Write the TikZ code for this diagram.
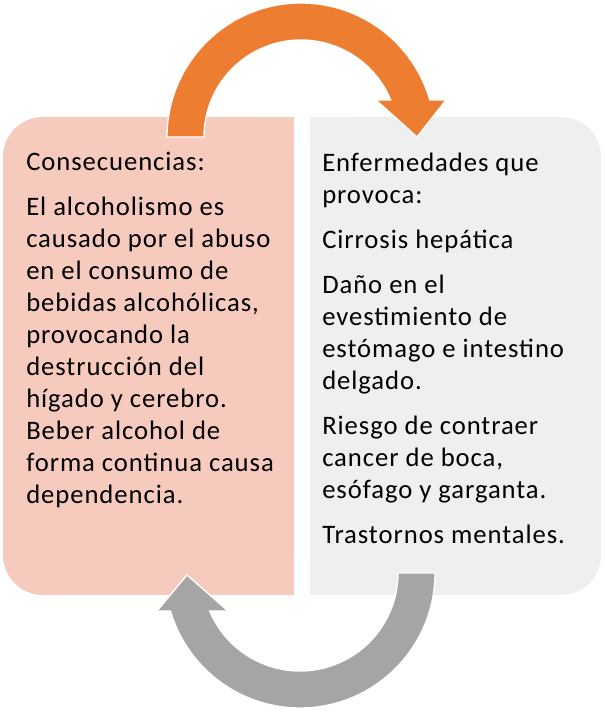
\documentclass[tikz,border=0pt]{standalone}
\usepackage{fontspec}
\setmainfont[LetterSpace=3.5]{Carlito}
\usetikzlibrary{positioning}
\definecolor{peach}{HTML}{F6CBBE}
\definecolor{lightgrey}{HTML}{EFEFEF}
\definecolor{orangearc}{HTML}{ED7D31}
\definecolor{greyarc}{HTML}{A5A5A5}

\begin{document}
\begin{tikzpicture}[x=0.75pt,y=0.75pt,
  txt/.style={inner sep=0pt,align=left,anchor=north west,
    font=\fontsize{20}{24}\selectfont},
  cyclearc/.style={draw=white,line width=1pt}]

\useasboundingbox (0,0) rectangle (604,712);

\fill[peach,rounded corners=30pt]     (3,117) rectangle (294,595);
\fill[peach]                          (200,117) rectangle (294,595);
\fill[lightgrey,rounded corners=30pt] (310,117) rectangle (601,595);
\fill[lightgrey]                      (310,117) rectangle (400,595);

\node[txt]   (cons)   at (26,564.5)
      {\strut Consecuencias:\\[9.75pt]
       El alcoholismo es\\causado por el abuso\\en el consumo de\\bebidas alcohólicas,\\provocando la\\destrucción del\\hígado y cerebro.\\Beber alcohol de\\forma continua causa\\dependencia.};

\node[txt]   (enf)    at (322,563.5)
      {\strut Enfermedades que\\provoca:\\[9.75pt]
       Cirrosis hepática\\[9.75pt]
       Daño en el\\evestimiento de\\estómago e intestino\\delgado.\\[9.75pt]
       Riesgo de contraer\\cancer de boca,\\esófago y garganta.\\[9.75pt]
       Trastornos mentales.};

\begin{scope}[shift={(301,575)}]
\filldraw[fill=orangearc,cyclearc] (180:134) arc[start angle=180,end angle=16.03,radius=134]
   -- (145,37) -- (116,0) -- (75,37)
   -- (22.42:97) arc[start angle=22.42,end angle=180,radius=97] -- cycle;
\end{scope}

\begin{scope}[shift={(300,139)}]
\filldraw[fill=greyarc,cyclearc] (0:135) arc[start angle=0,end angle=-163.65,radius=135]
   -- (-143,-38) -- (-113,-2) -- (-72,-38)
   -- (-157.2:98) arc[start angle=-157.2,end angle=0,radius=98] -- cycle;
\end{scope}
\end{tikzpicture}
\end{document}
